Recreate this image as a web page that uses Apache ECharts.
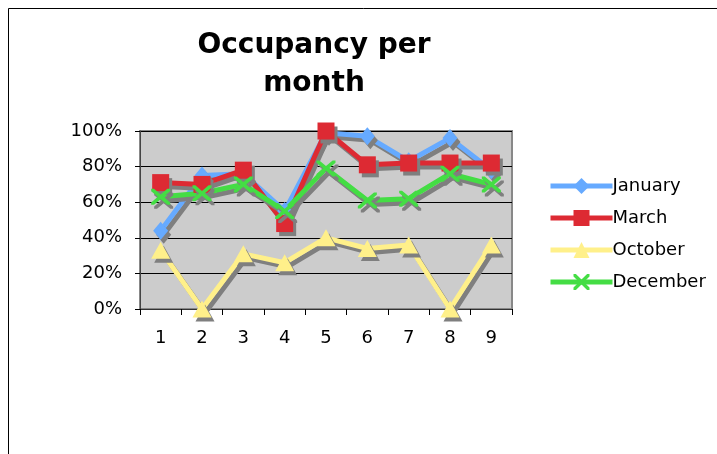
<!DOCTYPE html>
<html lang="en">
<head>
    <meta charset="UTF-8">
    <title>Occupancy per month</title>
    <script src="https://cdn.jsdelivr.net/npm/echarts@6/dist/echarts.min.js"></script>
    <style>
        html, body { margin: 0; padding: 0; background: #fff; }
    </style>
</head>
<body>
    <div id="main" style="width: 717px;height:454px;"></div>
    <script type="text/javascript">
        // months on the x axis
        var categories = ['1', '2', '3', '4', '5', '6', '7', '8', '9'];
        var yTicks = [0, 0.2, 0.4, 0.6, 0.8, 1.0];

        // occupancy (fraction) per series
        var january  = [0.44, 0.75, 0.76, 0.55, 0.99, 0.97, 0.83, 0.96, 0.78];
        var march    = [0.71, 0.70, 0.78, 0.48, 1.00, 0.81, 0.82, 0.82, 0.82];
        var october  = [0.33, 0.00, 0.31, 0.26, 0.40, 0.34, 0.36, 0.00, 0.36];
        var december = [0.63, 0.65, 0.70, 0.55, 0.79, 0.61, 0.62, 0.76, 0.70];

        var crossPath = 'path://M0,0 L3,0 L10,7 L17,0 L20,0 L20,3 L13,10 L20,17 L20,20 L17,20 L10,13 L3,20 L0,20 L0,17 L7,10 L0,3 Z';

        function makeSeries(name, data, color, symbol, size) {
            return {
                name: name,
                type: 'line',
                data: data,
                symbol: symbol,
                symbolSize: size,
                showAllSymbol: true,
                z: 2,
                lineStyle: {
                    color: color,
                    width: 5,
                    shadowColor: '#7f7f7f',
                    shadowOffsetX: 3,
                    shadowOffsetY: 4,
                    shadowBlur: 0
                },
                itemStyle: {
                    color: color,
                    borderWidth: 0,
                    shadowColor: '#7f7f7f',
                    shadowOffsetX: 3,
                    shadowOffsetY: 4,
                    shadowBlur: 0
                },
                emphasis: { disabled: true },
                animation: false
            };
        }

        var myChart = echarts.init(document.getElementById('main'));
        myChart.setOption({
            backgroundColor: '#ffffff',
            textStyle: { fontFamily: 'DejaVu Sans' },
            title: {
                text: 'Occupancy per\nmonth',
                left: 309,
                top: 22,
                textAlign: 'center',
                textStyle: {
                    fontFamily: 'DejaVu Sans',
                    fontWeight: 'bold',
                    fontSize: 28,
                    lineHeight: 38,
                    color: '#000'
                }
            },
            legend: {
                orient: 'vertical',
                left: 543,
                top: 172,
                itemWidth: 62,
                itemHeight: 20,
                itemGap: 14,
                textStyle: { fontSize: 18, color: '#000', fontFamily: 'DejaVu Sans', padding: [0, 0, 0, -5] },
                itemStyle: { shadowColor: 'transparent' },
                lineStyle: { width: 5, shadowColor: 'transparent' },
                data: ['January', 'March', 'October', 'December']
            },
            grid: {
                left: 140,
                right: 205,
                top: 131,
                bottom: 145,
                show: true,
                backgroundColor: '#cccccc',
                borderColor: '#888888',
                borderWidth: 2
            },
            xAxis: {
                type: 'category',
                data: categories,
                boundaryGap: true,
                axisLine: { lineStyle: { color: '#333', width: 1 } },
                axisTick: { show: true, interval: 0, inside: false, length: 6, lineStyle: { color: '#000' } },
                axisLabel: { margin: 20, fontSize: 18, color: '#000', fontFamily: 'DejaVu Sans' },
                splitLine: { show: false }
            },
            yAxis: {
                type: 'value',
                min: yTicks[0],
                max: yTicks[yTicks.length - 1],
                interval: 0.2,
                axisLine: { show: true, lineStyle: { color: '#444', width: 1 } },
                axisTick: { show: true, length: 5, lineStyle: { color: '#000' } },
                axisLabel: {
                    margin: 18,
                    fontSize: 18,
                    color: '#000',
                    fontFamily: 'DejaVu Sans',
                    formatter: function (v) { return Math.round(v * 100) + '%'; }
                },
                splitLine: { show: true, lineStyle: { color: '#000', width: 1 } }
            },
            graphic: [
                {
                    type: 'rect',
                    shape: { x: 8.5, y: 8.5, width: 800, height: 600 },
                    style: { fill: 'none', stroke: '#000', lineWidth: 1 },
                    silent: true
                }
            ],
            series: [
                makeSeries('January', january, '#66aaff', 'diamond', [15, 18]),
                makeSeries('March', march, '#dd2a33', 'rect', 17),
                makeSeries('October', october, '#fff08a', 'triangle', [19, 17]),
                makeSeries('December', december, '#44dd44', crossPath, [19, 16])
            ]
        });
    </script>
</body>
</html>
